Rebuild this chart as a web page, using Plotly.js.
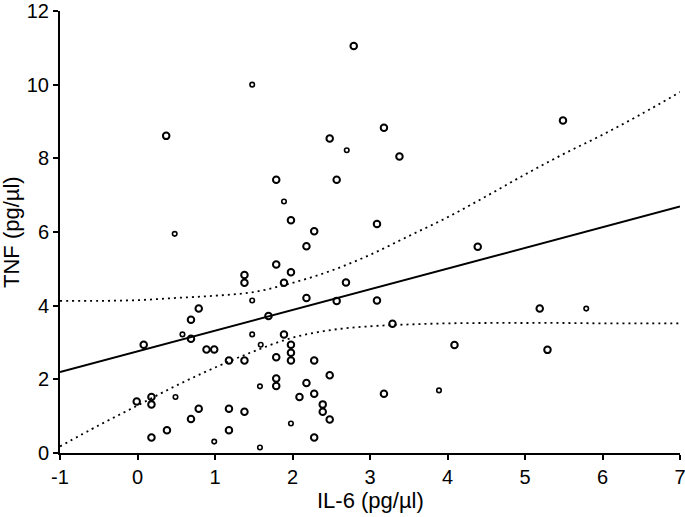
<!DOCTYPE html>
<html>
<head>
<meta charset="utf-8">
<script src="https://cdn.plot.ly/plotly-3.0.1.min.js"></script>
<style>
  html, body { margin: 0; padding: 0; background: #fff; }
  #chart { width: 685px; height: 517px; }
</style>
</head>
<body>
<div id="chart"></div>
<script>
// IL-6 vs TNF, individual subjects (pg/µl)
const bigX = [2.79, 3.18, 2.48, 3.38, 5.49, 0.37, 1.79, 2.57, 1.98, 2.28, 2.18, 3.09, 4.39,
  1.79, 1.98, 1.38, 1.38, 1.89, 2.69, 2.18, 2.57, 3.09, 0.79, 0.69, 1.69, 3.29, 5.19,
  1.89, 0.69, 0.08, 0.89, 0.99, 1.98, 1.98, 1.98, 1.18, 1.38, 1.79, 2.28, 4.09, 5.29,
  2.48, 1.79, 1.79, 2.18, 3.18, 2.28, 2.09, 2.39, 2.39, 1.38, 2.48, 2.28, -0.01, 0.18,
  0.18, 0.79, 0.69, 1.18, 1.18, 0.38, 0.18];
const bigY = [11.05, 8.83, 8.54, 8.05, 9.03, 8.61, 7.42, 7.42, 6.32, 6.02, 5.61, 6.22, 5.60,
  5.12, 4.91, 4.83, 4.62, 4.62, 4.63, 4.21, 4.13, 4.14, 3.92, 3.62, 3.72, 3.51, 3.92,
  3.22, 3.10, 2.94, 2.81, 2.81, 2.94, 2.72, 2.51, 2.51, 2.51, 2.60, 2.51, 2.93, 2.80,
  2.11, 2.02, 1.82, 1.90, 1.61, 1.61, 1.52, 1.32, 1.12, 1.12, 0.91, 0.42, 1.40, 1.52,
  1.32, 1.20, 0.92, 1.20, 0.62, 0.62, 0.42];

const smallX = [1.48, 2.70, 0.48, 1.89, 1.48, 1.59, 1.48, 0.58, 1.58, 1.98, 1.58, 0.49, 0.99, 3.89, 5.79];
const smallY = [10.00, 8.22, 5.95, 6.83, 4.14, 2.94, 3.22, 3.22, 1.81, 0.80, 0.15, 1.52, 0.31, 1.70, 3.92];

// least-squares line and its 95% confidence band
const fitX = [-1, 7];
const fitY = [2.20, 6.69];
const bandX = [-1, -0.5, 0, 0.5, 1, 1.5, 2, 2.5, 3, 3.5, 4, 4.5, 5, 5.5, 6, 6.5, 7];
const upperY = [4.13, 4.13, 4.15, 4.21, 4.27, 4.37, 4.62, 4.95, 5.38, 5.89, 6.40, 6.97, 7.56, 8.12, 8.64, 9.20, 9.80];
const lowerY = [0.18, 0.75, 1.29, 1.83, 2.32, 2.76, 3.13, 3.34, 3.44, 3.49, 3.52, 3.53, 3.53, 3.53, 3.52, 3.52, 3.52];

const xTicks = [-1, 0, 1, 2, 3, 4, 5, 6, 7];
const yTicks = [0, 2, 4, 6, 8, 10, 12];
const xLabel = 'IL-6 (pg/µl)';
const yLabel = 'TNF (pg/µl)';

const ink = '#000';
const bandLine = { color: ink, width: 1.8, dash: '2px,4px', shape: 'spline' };

const traces = [
  { x: bandX, y: upperY, mode: 'lines', line: bandLine, hoverinfo: 'skip' },
  { x: bandX, y: lowerY, mode: 'lines', line: bandLine, hoverinfo: 'skip' },
  { x: fitX, y: fitY, mode: 'lines', line: { color: ink, width: 2 } },
  { x: bigX, y: bigY, mode: 'markers',
    marker: { symbol: 'circle-open', size: 6.5, color: ink, line: { width: 2, color: ink } } },
  { x: smallX, y: smallY, mode: 'markers',
    marker: { symbol: 'circle-open', size: 4.5, color: ink, line: { width: 1.6, color: ink } } }
];

const family = 'Liberation Sans, Arial, sans-serif';
const tickFont = { family, size: 20, color: ink };
const titleFont = { family, size: 22, color: ink };

const axisCommon = {
  showline: true, linecolor: ink, linewidth: 2,
  ticks: 'outside', ticklen: 5, tickwidth: 2, tickcolor: ink,
  showgrid: false, zeroline: false, tickfont: tickFont,
  ticklabeloverflow: 'allow'
};

const layout = {
  width: 685, height: 517,
  margin: { l: 60, r: 5, t: 11, b: 64 },
  paper_bgcolor: '#fff', plot_bgcolor: '#fff',
  showlegend: false,
  xaxis: Object.assign({}, axisCommon, {
    range: [-1, 7], tickvals: xTicks, ticktext: xTicks.map(String)
  }),
  yaxis: Object.assign({}, axisCommon, {
    range: [0, 12], tickvals: yTicks, ticktext: yTicks.map(String)
  }),
  // axis titles placed by pixel offset from the plot edges
  annotations: [
    { text: xLabel, xref: 'paper', yref: 'paper', x: 0.5, y: 0,
      xanchor: 'center', yanchor: 'middle', yshift: -47, showarrow: false, font: titleFont },
    { text: yLabel, xref: 'paper', yref: 'paper', x: 0, y: 0.5, textangle: -90,
      xanchor: 'center', yanchor: 'middle', xshift: -49, showarrow: false, font: titleFont }
  ]
};

Plotly.newPlot('chart', traces, layout, { staticPlot: true, displayModeBar: false });
</script>
</body>
</html>
